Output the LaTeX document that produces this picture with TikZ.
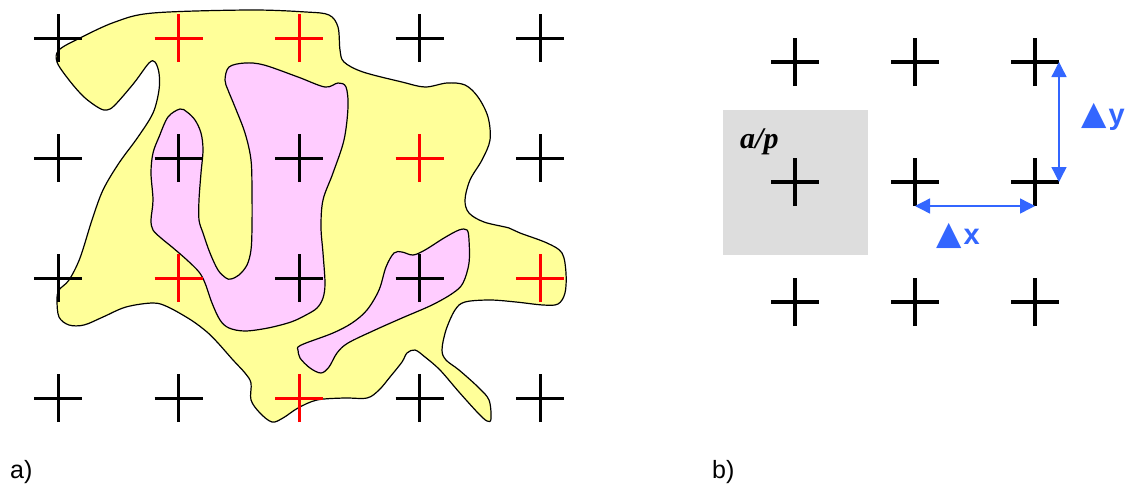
\documentclass[tikz,border=0pt]{standalone}
\usepackage{fontspec}
\setmainfont{Liberation Sans}
\newfontfamily\serifbi{Liberation Serif}
\newfontfamily\symbfont{DejaVu Sans}
\usetikzlibrary{arrows.meta, calc}
\definecolor{blobyellow}{HTML}{FFFF99}
\definecolor{blobpink}{HTML}{FFCCFF}
\definecolor{cellgray}{HTML}{DDDDDD}
\definecolor{dimblue}{HTML}{3366FF}
\tikzset{
  every picture/.style={line join=round},
  cross/.style={line width=3pt},
  bigcross/.style={line width=4.5pt},
  blob/.style={draw=black, line width=1.2pt},
  dimarrow/.style={{Triangle[length=15pt, width=15pt]}-{Triangle[length=15pt, width=15pt]}, dimblue, line width=1.4pt},
  panellabel/.style={anchor=base west, inner sep=0pt, font=\fontsize{25}{30}\selectfont},
  deltalabel/.style={anchor=base west, inner sep=0pt, text=dimblue, font=\fontsize{29}{34}\selectfont\bfseries},
  % sampling point (absolute size)
  plus/.pic={
    \draw (-24pt,0) -- (24pt,0) (0,-24pt) -- (0,24pt);
  },
}

\begin{document}
\begin{tikzpicture}[x=1pt, y=-1pt]
  \useasboundingbox (0,0) rectangle (1127,483);

  % a) region on the grid
  \draw[blob, fill=blobyellow] plot[smooth cycle, tension=0.55] coordinates {
    (59,50) (80,38) (115,22) (153,13) (249,10) (306,12) (329,15) (338,27) (340,50)
    (344,62) (363,72) (402,82) (425,87) (447,83) (465,85) (478,97) (488,117) (490,140)
    (482,160) (470,180) (465,200) (469,213) (484,222) (509,228) (520,233) (547,243)
    (562,253) (566,273) (565,293) (558,304) (543,305) (516,302) (490,300) (465,302)
    (455,310) (446,330) (442,350) (446,360) (459,370) (478,387) (489,400) (491,419)
    (487,421) (478,413) (459,392) (440,370) (425,357) (415,350) (407,353) (402,362)
    (390,377) (379,390) (367,398) (344,398) (317,400) (298,408) (283,418) (272,422)
    (260,413) (251,400) (251,383) (245,373) (233,360) (218,343) (207,332) (191,320)
    (168,307) (153,303) (126,307) (103,317) (84,325) (69,325) (59,317) (57,300)
    (59,290) (69,280) (80,258) (92,220) (103,190) (119,163) (138,137) (153,113)
    (159,90) (159,73) (155,62) (149,63) (134,83) (115,105) (107,110) (99,108)
    (84,97) (69,80) (57,62)};
  \draw[blob, fill=blobpink] plot[smooth cycle, tension=0.55] coordinates {
    (229,67) (245,63) (264,65) (298,77) (325,87) (338,83) (346,87) (348,107) (344,140)
    (333,173) (323,200) (321,227) (323,253) (325,283) (323,298) (317,308) (306,315)
    (291,322) (268,328) (245,331) (229,328) (220,320) (212,303) (205,283) (199,272)
    (187,260) (172,247) (161,238) (153,230) (151,220) (153,200) (151,173) (153,153)
    (159,137) (168,117) (180,109) (187,112) (195,120) (201,133) (203,150) (201,173)
    (199,200) (199,220) (203,233) (210,253) (218,270) (226,278) (231,279) (239,275)
    (247,265) (251,250) (252,227) (252,193) (251,160) (245,133) (235,107) (228,90)
    (225,80)};
  \draw[blob, fill=blobpink] plot[smooth cycle, tension=0.55] coordinates {
    (298,347) (306,343) (333,333) (352,323) (367,310) (379,290) (386,267) (394,253)
    (402,252) (413,255) (425,250) (444,238) (459,230) (467,230) (469,240) (469,263)
    (463,283) (453,293) (432,305) (402,318) (375,330) (348,343) (337,353) (329,367)
    (321,373) (310,368) (300,358) (298,350)};

  % a) sampling grid, red = inside the yellow region only
  \foreach \y [count=\r] in {38,158,278,398}
    \foreach \x [count=\c] in {58,178.5,299,419.5,540}
      \coordinate (a-\r-\c) at (\x,\y);
  \foreach \r/\cols in {1/{black,red,red,black,black}, 2/{black,black,black,red,black},
                        3/{black,red,black,black,red}, 4/{black,black,red,black,black}}
    \foreach \col [count=\c] in \cols
      \pic[\col, cross] at (a-\r-\c) {plus};

  % b) grid with one cell
  \fill[cellgray] (723,110) rectangle (868,255);
  \foreach \y [count=\r] in {62,182,302}
    \foreach \x [count=\c] in {795,915,1035}
      \coordinate (b-\r-\c) at (\x,\y);
  \foreach \r in {1,2,3}
    \foreach \c in {1,2,3}
      \pic[bigcross] at (b-\r-\c) {plus};
  \node[anchor=base west, inner sep=0pt, font=\fontsize{30}{34}\selectfont\serifbi\bfseries\itshape] (ap) at (740,148) {a/p};

  % spacing
  \draw[dimarrow] ([yshift=-24pt]b-2-2) -- ([yshift=-24pt]b-2-3);
  \draw[dimarrow] ([xshift=24pt]b-1-3) -- ([xshift=24pt]b-2-3);
  \node[deltalabel] (dx) at (936,244) {{\symbfont\mdseries\fontsize{33}{34}\selectfont ▲}\kern2pt x};
  \node[deltalabel] (dy) at (1081,124) {{\symbfont\mdseries\fontsize{33}{34}\selectfont ▲}\kern2pt y};

  \node[panellabel] (lbla) at (10,478) {a)};
  \node[panellabel] (lblb) at (712,478) {b)};
\end{tikzpicture}
\end{document}
